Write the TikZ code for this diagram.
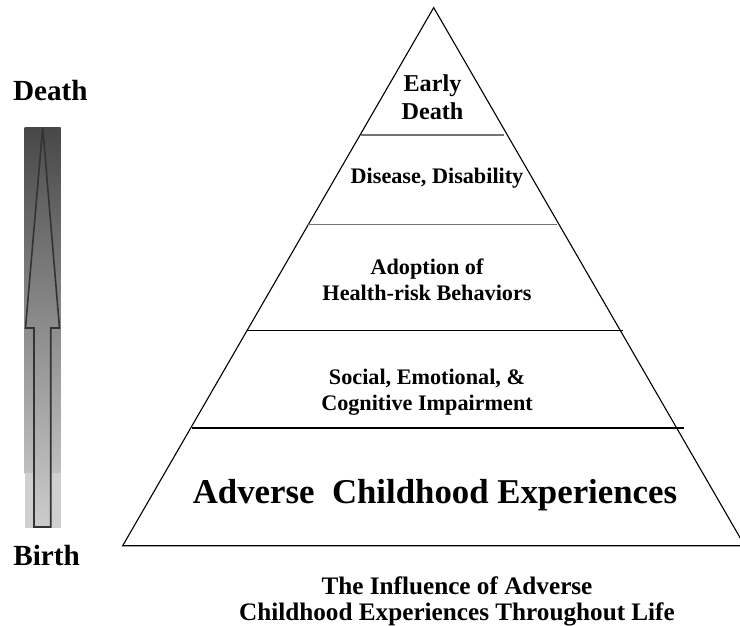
\documentclass[tikz,border=0pt]{standalone}
\usepackage{fontspec}
\setmainfont{Liberation Serif}
\begin{document}
\begin{tikzpicture}[x=0.5pt,y=-0.5pt]
    % --- styles ---
    \tikzstyle{level}=[font=\bfseries\fontsize{11.1}{13.2}\selectfont, align=center, inner sep=0pt]
    \tikzstyle{toplevel}=[font=\bfseries\fontsize{12.1}{14}\selectfont, align=center, inner sep=0pt]
    \tikzstyle{baselevel}=[font=\bfseries\fontsize{17.4}{20}\selectfont, inner sep=0pt]
    \tikzstyle{caption}=[font=\bfseries\fontsize{12.6}{13}\selectfont, align=center, inner sep=0pt]
    \tikzstyle{side}=[font=\bfseries\fontsize{14.6}{16}\selectfont, anchor=west, inner sep=0pt]
    \tikzstyle{greyline}=[line width=0.9pt, black!55]
    \tikzstyle{blackline}=[line width=0.55pt, black]

    \useasboundingbox (0,0) rectangle (740,626);

    % 1. time bar (gradient part and light part)
    \shade[top color=black!72, bottom color=black!25] (24.5,127.7) rectangle (60.5,473);
    \fill[black!19] (24.5,473) rectangle (60.5,527.7);

    % 2. arrow from birth to death
    \shadedraw[top color=black!70, bottom color=black!20, draw=black!80, line width=0.8pt]
        (42.7,127.7) -- (59.5,328) -- (50.7,328) -- (50.7,527) -- (34,527)
        -- (34,328) -- (25.5,328) -- cycle;

    % 3. pyramid outline
    \draw[line width=0.55pt] (433.7,7.6) -- (122.7,545.7) -- (744.7,545.7) -- cycle;

    % 4. level dividers
    \draw[greyline] (361,135) -- (504,135);
    \draw[greyline] (308,224.5) -- (556.6,224.5);
    \draw[blackline] (246.5,330.5) -- (623,330.5);
    \draw[blackline] (191.5,428) -- (683.5,428);

    % 5. level texts
    \node[toplevel] (early) at (432.5,97) {Early\\Death};
    \node[level] (disease) at (437,178) {Disease, Disability};
    \node[level] (adoption) at (427,280) {Adoption of\\Health-risk Behaviors};
    \node[level] (social) at (427,392) {Social, Emotional, \&\\Cognitive Impairment};
    \node[baselevel] (ace) at (435,495) {Adverse\ \ Childhood Experiences};

    % 6. side labels and caption
    \node[side] (death) at (12.7,91) {Death};
    \node[side] (birth) at (13,556) {Birth};
    \node[caption] (title) at (457,601) {The Influence of Adverse\\Childhood Experiences Throughout Life};

\end{tikzpicture}
\end{document}
